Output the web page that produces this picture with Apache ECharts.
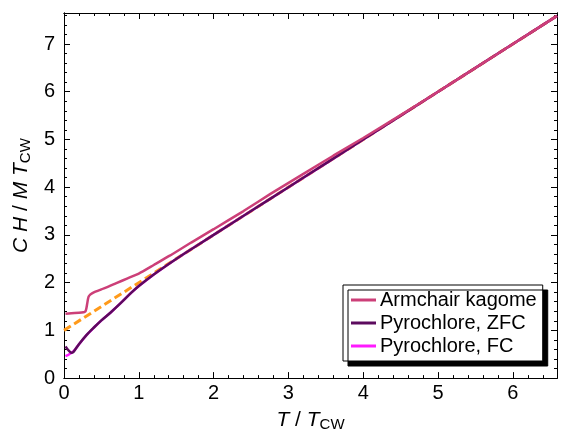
<!DOCTYPE html>
<html>
<head>
<meta charset="utf-8">
<script src="https://cdn.jsdelivr.net/npm/echarts@6/dist/echarts.min.js"></script>
<style>html,body{margin:0;padding:0;background:#fff}#c{width:564px;height:437px}</style>
</head>
<body>
<div id="c"></div>
<script>
// Data
const kagomeT = [0.02,0.1,0.2,0.26,0.28,0.29,0.3,0.31,0.32,0.33,0.35,0.38,0.42,0.5,0.6,0.7,0.85,1.0,1.2,1.42,1.7,2.0,2.4,2.76,3.2,3.6,4.0,4.5,5.0,5.5,6.0,6.59];
const kagomeY = [1.35,1.36,1.37,1.38,1.39,1.41,1.47,1.56,1.65,1.71,1.75,1.78,1.81,1.86,1.92,1.99,2.09,2.19,2.37,2.57,2.84,3.12,3.5,3.86,4.28,4.66,5.03,5.51,6.0,6.5,7.0,7.59];
const zfcT = [0.02,0.05,0.08,0.1,0.12,0.15,0.2,0.3,0.4,0.5,0.62,0.75,0.9,1.0,1.2,1.4,1.6,2.0,2.5,3.0,3.5,4.0,5.0,6.0,6.59];
const zfcY = [0.66,0.6,0.55,0.53,0.54,0.6,0.71,0.9,1.06,1.21,1.37,1.56,1.79,1.93,2.17,2.39,2.6,3.0,3.5,4.0,4.5,5.0,6.0,7.0,7.59];
const fcT = [0.02,0.05,0.08,0.11,0.13,0.15,0.2,0.3,0.4,0.5,0.62,0.75,0.9,1.0,1.2,1.4,1.6,2.0,2.5,3.0,3.5,4.0,5.0,6.0,6.59];
const fcY = [0.46,0.48,0.51,0.54,0.56,0.6,0.71,0.9,1.06,1.21,1.37,1.56,1.79,1.93,2.17,2.39,2.6,3.0,3.5,4.0,4.5,5.0,6.0,7.0,7.59];
const cwT = [0, 6.59];
const cwY = [1, 7.59];
const seriesNames = ['Armchair kagome', 'Pyrochlore, ZFC', 'Pyrochlore, FC'];
const xTicks = [0,1,2,3,4,5,6];
const yTicks = [0,1,2,3,4,5,6,7];

const zip = (a, b) => a.map((v, i) => [v, b[i]]);
const FONT = '"Liberation Sans", Arial, Helvetica, sans-serif';
const XMAX = 6.59, YMAX = 7.65;

function mkAxis(kind, pos, interval, len, labels) {
  return {
    type: 'value', position: pos, min: 0, max: kind === 'x' ? XMAX : YMAX,
    interval: interval,
    axisLine: {show: true, onZero: false, lineStyle: {color: '#000', width: 1}},
    axisTick: {show: true, inside: true, length: len, lineStyle: {color: '#000', width: 1}},
    splitLine: {show: false},
    axisLabel: labels ? {
      show: true, fontFamily: FONT, fontSize: 20, color: '#000', margin: kind === 'x' ? 5 : 9,
      showMaxLabel: false,
      formatter: v => ((kind === 'x' ? xTicks : yTicks).includes(v) ? String(v) : '')
    } : {show: false}
  };
}

const nameStyle = {
  fontFamily: FONT, color: '#000',
  rich: {
    i: {fontFamily: FONT, fontStyle: 'italic', fontSize: 21, color: '#000', lineHeight: 24},
    n: {fontFamily: FONT, fontSize: 21, color: '#000', lineHeight: 24},
    s: {fontFamily: FONT, fontSize: 15, color: '#000', lineHeight: 24, padding: [9, 0, 0, 0]}
  }
};
const xAxes = [
  mkAxis('x', 'bottom', 1, 6, true),
  mkAxis('x', 'bottom', 0.2, 3, false),
  mkAxis('x', 'top', 1, 6, false),
  mkAxis('x', 'top', 0.2, 3, false)
];
xAxes[0].name = '{i|T}{n| / }{i|T}{s|CW}';
xAxes[0].nameLocation = 'middle';
xAxes[0].nameGap = 29;
xAxes[0].nameTextStyle = nameStyle;
const yAxes = [
  mkAxis('y', 'left', 1, 6, true),
  mkAxis('y', 'left', 0.2, 3, false),
  mkAxis('y', 'right', 1, 6, false),
  mkAxis('y', 'right', 0.2, 3, false)
];
yAxes[0].name = '{i|C H}{n| / }{i|M T}{s|CW}';
yAxes[0].nameLocation = 'middle';
yAxes[0].nameRotate = 90;
yAxes[0].nameGap = 28;
yAxes[0].nameTextStyle = nameStyle;

const chart = echarts.init(document.getElementById('c'), null, {renderer: 'canvas'});
chart.setOption({
  animation: false,
  backgroundColor: '#fff',
  grid: {left: 64, right: 7, top: 13, bottom: 56.5, containLabel: false},
  xAxis: xAxes,
  yAxis: yAxes,
  legend: {
    orient: 'vertical', left: 343, top: 285,
    data: seriesNames.map(n => ({name: n, icon: 'rect'})),
    itemWidth: 25, itemHeight: 3, itemGap: 3,
    backgroundColor: '#fff', borderColor: '#000', borderWidth: 1,
    padding: [5, 6, 5, 8],
    shadowColor: '#000', shadowBlur: 0, shadowOffsetX: 5, shadowOffsetY: 5,
    textStyle: {fontFamily: FONT, fontSize: 20, color: '#000', padding: [0, 0, 0, -1]}
  },
  series: [
    {name: 'Curie-Weiss', type: 'line', data: zip(cwT, cwY), showSymbol: false, z: 1,
     lineStyle: {color: '#ff9a1a', width: 3, type: [8, 4]}, itemStyle: {color: '#ff9a1a'}},
    {name: seriesNames[2], type: 'line', data: zip(fcT, fcY), showSymbol: false, z: 2,
     lineStyle: {color: '#ff1aff', width: 2.5}, itemStyle: {color: '#ff1aff'}},
    {name: seriesNames[1], type: 'line', data: zip(zfcT, zfcY), showSymbol: false, z: 3, smooth: 0.3,
     lineStyle: {color: '#5c0b5e', width: 2.5}, itemStyle: {color: '#5c0b5e'}},
    {name: seriesNames[0], type: 'line', data: zip(kagomeT, kagomeY), showSymbol: false, z: 4, smooth: 0.2,
     lineStyle: {color: '#cc3f78', width: 2.5}, itemStyle: {color: '#cc3f78'}}
  ]
});
</script>
</body>
</html>
